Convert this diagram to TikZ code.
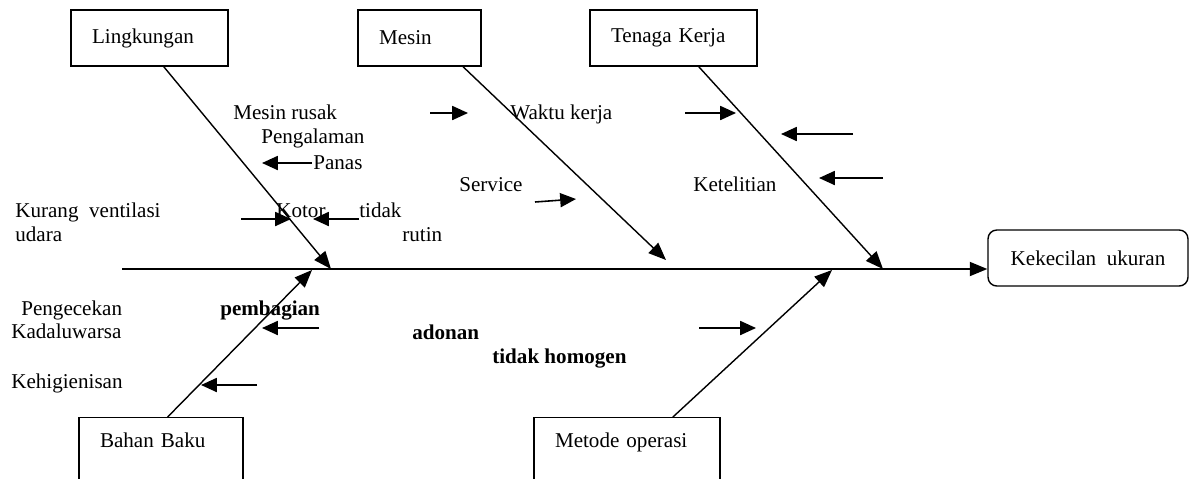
\documentclass[tikz,border=0pt]{standalone}
\usepackage{fontspec}
\setmainfont{Liberation Serif}
\usetikzlibrary{arrows.meta,calc}

\begin{document}
\begin{tikzpicture}[x=0.02cm,y=-0.02cm,font=\fontsize{12}{14}\selectfont]
  \tikzset{catbox/.style = {draw, align=left, inner xsep=0.42cm, minimum height=1.12cm, line width=0.8pt}}
  \tikzset{effect/.style = {draw, rounded corners=5pt, minimum width=4cm, minimum height=1.12cm, line width=0.8pt}}
  \tikzset{bone/.style = {-{Triangle[length=10pt,width=8pt]}, line width=0.8pt}}
  \tikzset{cause/.style = {-{Triangle[length=9pt,width=8pt]}, line width=0.9pt}}
  \tikzset{lbl/.style = {anchor=base west, inner sep=0pt}}

\useasboundingbox (0,0) rectangle (1190,478);

% category boxes
\node[catbox, text width=2.3cm]  (lingkungan) at (149.5,38) {Lingkungan};
\node[catbox, text width=1.62cm] (mesin)      at (419.5,38) {Mesin};
\node[catbox, text width=2.5cm]  (tenaga)     at (673.5,38) {Tenaga Kerja};
\node[catbox, text width=2.44cm, anchor=north, inner ysep=0.3cm, text depth=3cm] (bahan)  at (161,417) {Bahan Baku};
\node[catbox, text width=2.88cm, anchor=north, inner ysep=0.3cm, text depth=3cm] (metode) at (627,417) {Metode operasi};
\node[effect] (kecil) at (1088,258) {Kekecilan\ \ ukuran};

% spine and bones
\coordinate (tail) at (122,269);
\draw[bone, line width=1pt] (tail) -- (tail -| kecil.west);

\coordinate (jL) at (331,269);
\coordinate (jM) at (666,260);
\coordinate (jT) at (883,269);
\coordinate (jB) at (312,270);
\coordinate (jO) at (832,270);
\draw[bone] ($(lingkungan.south west)!0.59!(lingkungan.south east)$) -- (jL);
\draw[bone] ($(mesin.south west)!0.85!(mesin.south east)$) -- (jM);
\draw[bone] ($(tenaga.south west)!0.65!(tenaga.south east)$) -- (jT);
\draw[bone] ($(bahan.north west)!0.54!(bahan.north east)$) -- (jB);
\draw[bone] ($(metode.north west)!0.745!(metode.north east)$) -- (jO);

% cause texts
\node[lbl] (rusak)   at (233,119) {Mesin rusak};
\node[lbl] (alaman)  at (261,143) {Pengalaman};
\node[lbl] (panas)   at (313,169) {Panas};
\node[lbl] (kurang)  at (15,217)  {Kurang\ \ ventilasi};
\node[lbl] (udara)   at (15,241)  {udara};
\node[lbl] (kotor)   at (276,217) {Kotor};
\node[lbl] (tidak)   at (359,217) {tidak};
\node[lbl] (rutin)   at (402,241) {rutin};
\node[lbl] (service) at (459,191) {Service};
\node[lbl] (waktu)   at (510,119) {Waktu kerja};
\node[lbl] (teliti)  at (693,191) {Ketelitian};
\node[lbl] (cek)     at (21,315)  {Pengecekan};
\node[lbl] (kadal)   at (11,338)  {Kadaluwarsa};
\node[lbl] (higien)  at (11,388)  {Kehigienisan};
\node[lbl, font=\fontsize{12}{14}\selectfont\bfseries] (bagi)   at (220,315) {pembagian};
\node[lbl, font=\fontsize{12}{14}\selectfont\bfseries] (adonan) at (412,339) {adonan};
\node[lbl, font=\fontsize{12}{14}\selectfont\bfseries] (homog)  at (492,363) {tidak homogen};

% small cause arrows
\foreach \xa/\ya/\xb/\yb [count=\i] in {430/113/468/113, 312/163/262/163, 241/219/291/219,
    359/219/313/219, 535/202/576/199, 685/113/736/113, 853/134/781/134,
    883/178/819/178, 319/328/262/328, 257/385/201/385, 699/328/756/328}{
  \coordinate (s\i) at (\xa,\ya);
  \coordinate (e\i) at (\xb,\yb);
  \draw[cause] (s\i) -- (e\i);
}

\end{tikzpicture}
\end{document}
